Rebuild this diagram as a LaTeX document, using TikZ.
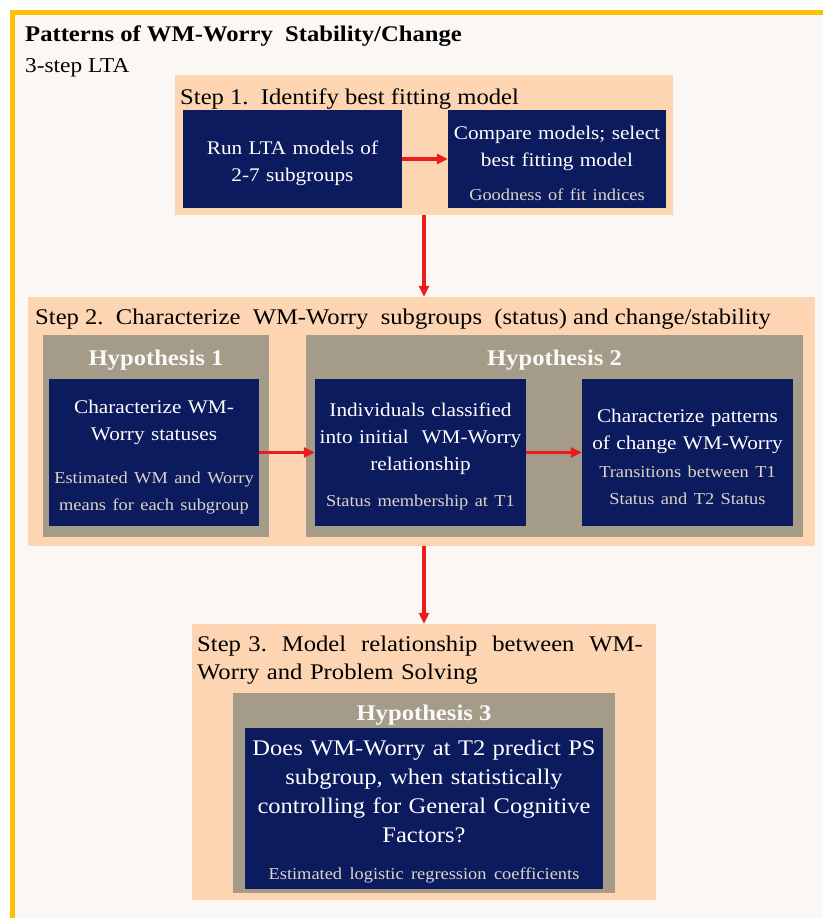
\documentclass[tikz,border=0pt]{standalone}
\usepackage{fontspec}
\setmainfont{Liberation Serif}[FakeStretch=1.1]
\usetikzlibrary{arrows.meta}

\definecolor{slidebg}{HTML}{FAF7F5}
\definecolor{slideframe}{HTML}{FCC10B}
\definecolor{peach}{HTML}{FDD5B2}
\definecolor{hypgray}{HTML}{A49C89}
\definecolor{navy}{HTML}{0C1A5E}
\definecolor{subcol}{HTML}{DCD5C6}
\definecolor{arrowred}{HTML}{EC1C1C}

\newcommand\subtxt{\color{subcol}\fontsize{16.7}{27}\selectfont}
\newcommand\lift{\rule{0pt}{22pt}}

\begin{document}
\begin{tikzpicture}
[x=1pt,y=-1pt,
stepbox/.style={fill=peach,inner sep=0},
hypbox/.style={fill=hypgray,inner sep=0},
taskbox/.style={fill=navy,text=white,align=center,inner sep=0,font=\fontsize{19.3}{27}\selectfont},
head/.style={anchor=base west,inner sep=0,font=\fontsize{22.4}{28}\selectfont},
hyplabel/.style={anchor=base,inner sep=0,text=white!95!hypgray,font=\bfseries\fontsize{22.4}{28}\selectfont},
arrow/.style={-{Triangle[length=11pt,width=10pt]},line width=3.3,arrowred}]

\useasboundingbox (0,0) rectangle (823,918);

%draw the slide
\fill[slidebg] (10,10) rectangle (823,918);
\draw[slideframe,line width=5] (12.5,918) -- (12.5,12.5) -- (823,12.5);

%draw the titles
\node[head,font=\bfseries\fontsize{22.4}{28}\selectfont] (title) at (25,41) {Patterns of WM-Worry\ \ Stability/Change};
\node[head,font=\fontsize{21.2}{28}\selectfont] (lta) at (25,72) {3-step LTA};

%draw step 1
\node[stepbox,minimum width=498,minimum height=140] (s1) at (424,145) {};
\node[head] (s1head) at (180,104) {Step 1.\ \ Identify best fitting model};
\node[taskbox,minimum width=219,minimum height=98,text width=212] (run) at (292.5,159)
  {\lift Run LTA models of\\2-7 subgroups};
\node[taskbox,minimum width=218,minimum height=98,text width=214] (cmp) at (557,159)
  {\lift Compare models; select\\best fitting model\\[7pt]\subtxt Goodness of fit indices};

%draw step 2
\node[stepbox,minimum width=787,minimum height=249] (s2) at (421.5,421.5) {};
\node[head] (s2head) at (35,324) {Step 2.\ \ Characterize\ \ WM-Worry\ \ subgroups\ \ (status)\ and change/stability};
\node[hypbox,minimum width=226,minimum height=202] (h1) at (156,436) {};
\node[hypbox,minimum width=497,minimum height=202] (h2) at (554.5,436) {};
\node[hyplabel] (h1head) at (156,365) {Hypothesis 1};
\node[hyplabel] (h2head) at (554.5,365) {Hypothesis 2};
\node[taskbox,minimum width=210,minimum height=147,text width=208] (char) at (154,452.5)
  {\lift Characterize WM-\\Worry statuses\\[16pt]\subtxt Estimated WM and Worry\\means for each subgroup};
\node[taskbox,minimum width=211,minimum height=147,text width=209] (ind) at (420.5,452.5)
  {\lift Individuals classified\\into initial\ \ WM-Worry\\relationship\\[9pt]\subtxt Status membership at T1};
\node[taskbox,minimum width=211,minimum height=147,text width=209] (pat) at (687.5,452.5)
  {\lift Characterize patterns\\of change WM-Worry\\[1pt]\subtxt Transitions between T1\\Status and T2 Status};

%draw step 3
\node[stepbox,minimum width=464,minimum height=276] (s3) at (424,762) {};
\node[head,anchor=north west,align=left,text width=458] (s3head) at (197,636)
  {Step 3.\ \ Model\ \ relationship\ \ between\ \ WM-\\Worry and Problem Solving};
\node[hypbox,minimum width=382,minimum height=200] (h3) at (424,793) {};
\node[hyplabel] (h3head) at (424,720) {Hypothesis 3};
\node[taskbox,minimum width=358,minimum height=161,text width=356,font=\fontsize{22.3}{29}\selectfont] (does) at (424,808.5)
  {\lift Does WM-Worry\ at T2 predict PS\\subgroup,\ when statistically\\controlling\ for General\ Cognitive\\Factors?\\[8pt]\subtxt Estimated logistic regression coefficients};

%draw the arrows
\draw[arrow] (run) -- (cmp);
\draw[arrow] (char) -- (ind);
\draw[arrow] (ind) -- (pat);
\draw[arrow] (s1.south) -- (s1.south |- s2.north);
\draw[arrow] (s1.south |- s2.south) -- (s1.south |- s3.north);

\end{tikzpicture}
\end{document}
